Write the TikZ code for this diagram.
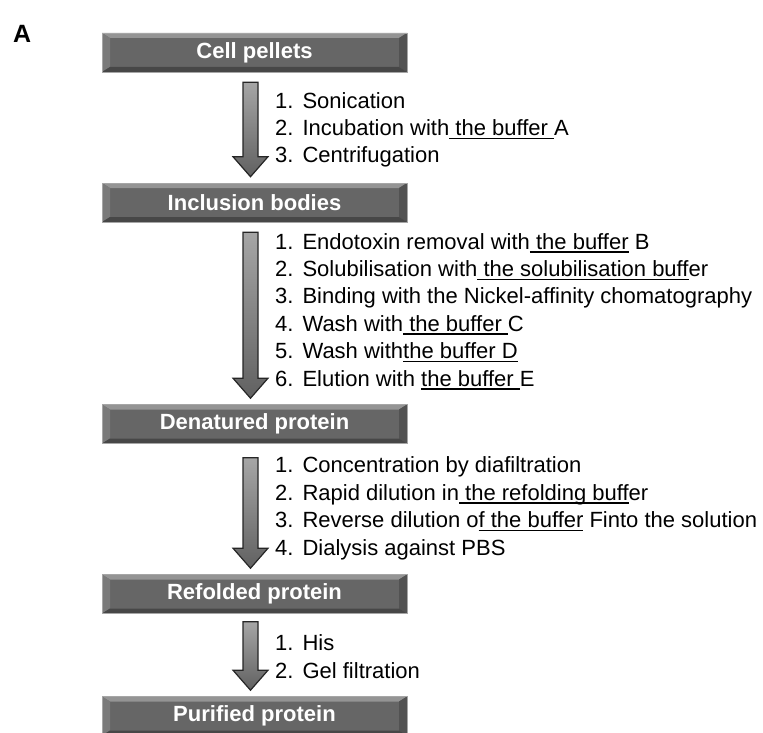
\documentclass[tikz,border=0pt]{standalone}
\usepackage{fontspec}
\setmainfont{Liberation Sans}
\usetikzlibrary{calc}

% underline of a buffer name, a bit below the baseline
\newcommand{\bufline}[1]{\setbox0\hbox{#1}\rlap{\rule[-3.5pt]{\wd0}{1.3pt}}\box0\relax}
\newcommand{\itm}[1]{#1.\hspace{9pt}}

% block arrow from one stage box down to the next
\newcommand{\stagearrow}[3][10pt]{%
  \draw[blockarrow] let \p1=([xshift=-4pt,yshift=-#1]#2.south),
                        \p2=([xshift=-4pt,yshift=6pt]#3.north) in
    (\x1-7.5pt,\y1) -- (\x1+7.5pt,\y1) -- (\x1+7.5pt,\y2+20pt)
    -- (\x1+17.5pt,\y2+20pt) -- (\x1,\y2) -- (\x1-17.5pt,\y2+20pt)
    -- (\x1-7.5pt,\y2+20pt) -- cycle;}

\begin{document}
\begin{tikzpicture}[x=1pt,y=-1pt,
    stage/.style={rectangle,minimum width=305pt,minimum height=39pt,
      inner sep=0pt,fill=black!60,draw=black!35,line width=0.6pt,text=white,
      font=\bfseries\fontsize{22}{22}\selectfont,
      path picture={
        \fill[black!42] (path picture bounding box.north west)
          -- (path picture bounding box.north east)
          -- ([xshift=-8pt,yshift=-5pt]path picture bounding box.north east)
          -- ([xshift=8pt,yshift=-5pt]path picture bounding box.north west) -- cycle;
        \fill[black!52] (path picture bounding box.north west)
          -- ([xshift=8pt,yshift=-5pt]path picture bounding box.north west)
          -- ([xshift=8pt,yshift=5pt]path picture bounding box.south west)
          -- (path picture bounding box.south west) -- cycle;
        \fill[black!68] (path picture bounding box.north east)
          -- ([xshift=-8pt,yshift=-5pt]path picture bounding box.north east)
          -- ([xshift=-8pt,yshift=5pt]path picture bounding box.south east)
          -- (path picture bounding box.south east) -- cycle;
        \fill[black!72] (path picture bounding box.south west)
          -- ([xshift=8pt,yshift=5pt]path picture bounding box.south west)
          -- ([xshift=-8pt,yshift=5pt]path picture bounding box.south east)
          -- (path picture bounding box.south east) -- cycle;
      }},
    blockarrow/.style={draw=black!85,line width=1.2pt,line join=miter,
      top color=black!35,bottom color=black!62},
    steps/.style={anchor=base west,inner sep=0pt,align=left,
      font=\fontsize{22}{27.4}\selectfont}]
  \useasboundingbox (0,0) rectangle (763,733);

  \node[anchor=base west,inner sep=0pt,font=\bfseries\fontsize{25}{25}\selectfont]
    (panel) at (13,43) {A};

  \node[stage] (cell)   at (254.5,52.5) {Cell pellets};
  \node[stage] (incl)   at (254.5,202.5) {Inclusion bodies};
  \node[stage] (denat)  at (254.5,424) {Denatured protein};
  \node[stage] (refold) at (254.5,594) {Refolded protein};
  \node[stage] (purif)  at (254.5,716) {Purified protein};

  \stagearrow{cell}{incl}
  \stagearrow{incl}{denat}
  \stagearrow[14pt]{denat}{refold}
  \stagearrow[8pt]{refold}{purif}

  % anchored at the baseline of the last line
  \node[steps] (s1) at (275,163) {\itm1Sonication\\
    \itm2Incubation with\bufline{ the buffer }A\\
    \itm3Centrifugation};
  \node[steps] (s2) at (275,386) {\itm1Endotoxin removal with\bufline{ the buffer} B\\
    \itm2Solubilisation with\bufline{ the solubilisation buff}er\\
    \itm3Binding with the Nickel-affinity chomatography\\
    \itm4Wash with\bufline{ the buffer }C\\
    \itm5Wash with\bufline{the buffer D}\\
    \itm6Elution with \bufline{the buffer }E};
  \node[steps] (s3) at (275,555) {\itm1Concentration by diafiltration\\
    \itm2Rapid dilution in\bufline{ the refolding buff}er\\
    \itm3Reverse dilution o\bufline{f the buffer} Finto the solution\\
    \itm4Dialysis against PBS};
  \node[steps] (s4) at (275,678) {\itm1His\\
    \itm2Gel filtration};
\end{tikzpicture}
\end{document}
